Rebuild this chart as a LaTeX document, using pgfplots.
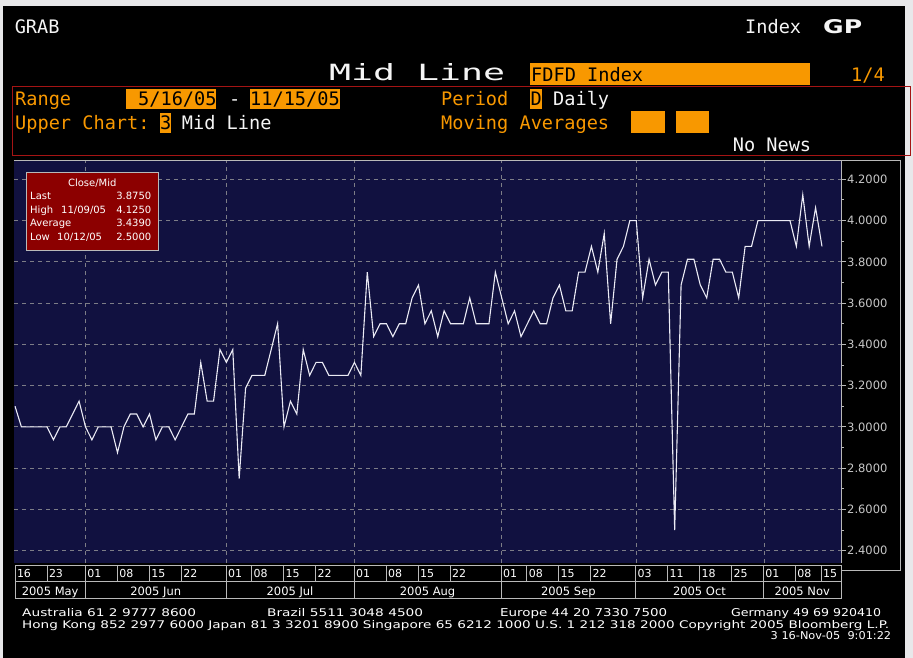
\documentclass[border=0pt]{standalone}
\usepackage{graphicx}
\usepackage{pgfplots}
\pgfplotsset{compat=1.18}
\usepackage{pgfplotstable}
\usepackage{fontspec}
\setmainfont{DejaVu Sans}
\newfontfamily\term{DejaVu Sans Mono}
\newfontfamily\lsans{DejaVu Sans}
\definecolor{bbgray}{RGB}{232,232,234}
\definecolor{bborange}{RGB}{248,152,0}
\definecolor{bbred}{RGB}{165,20,20}
\definecolor{plotbg}{RGB}{17,17,64}
\definecolor{gridc}{RGB}{125,125,135}
\definecolor{framec}{RGB}{185,185,185}
\definecolor{legred}{RGB}{140,0,0}
\definecolor{txt}{RGB}{245,245,245}
\definecolor{linec}{RGB}{235,235,245}
\newcommand\T[3]{\node[anchor=base west, inner sep=0pt, text=#3, font=\term\fontsize{18.6}{18.6}\selectfont] at (#1) {#2};}

\pgfplotstableread{
i v
0 3.1
1 3.0
2 3.0
3 3.0
4 3.0
5 3.0
6 2.9375
7 3.0
8 3.0
9 3.0625
10 3.125
11 3.0
12 2.9375
13 3.0
14 3.0
15 3.0
16 2.875
17 3.0
18 3.0625
19 3.0625
20 3.0
21 3.0625
22 2.9375
23 3.0
24 3.0
25 2.9375
26 3.0
27 3.0625
28 3.0625
29 3.3125
30 3.125
31 3.125
32 3.375
33 3.3125
34 3.375
35 2.75
36 3.1875
37 3.25
38 3.25
39 3.25
40 3.375
41 3.5
42 3.0
43 3.125
44 3.0625
45 3.375
46 3.25
47 3.3125
48 3.3125
49 3.25
50 3.25
51 3.25
52 3.25
53 3.3125
54 3.25
55 3.75
56 3.4375
57 3.5
58 3.5
59 3.4375
60 3.5
61 3.5
62 3.625
63 3.6875
64 3.5
65 3.5625
66 3.4375
67 3.5625
68 3.5
69 3.5
70 3.5
71 3.625
72 3.5
73 3.5
74 3.5
75 3.75
76 3.625
77 3.5
78 3.5625
79 3.4375
80 3.5
81 3.5625
82 3.5
83 3.5
84 3.625
85 3.6875
86 3.5625
87 3.5625
88 3.75
89 3.75
90 3.875
91 3.75
92 3.9375
93 3.5
94 3.8125
95 3.875
96 4.0
97 4.0
98 3.625
99 3.8125
100 3.6875
101 3.75
102 3.75
103 2.5
104 3.6875
105 3.8125
106 3.8125
107 3.6875
108 3.625
109 3.8125
110 3.8125
111 3.75
112 3.75
113 3.625
114 3.875
115 3.875
116 4.0
117 4.0
118 4.0
119 4.0
120 4.0
121 4.0
122 3.875
123 4.125
124 3.875
125 4.0625
126 3.875
}\fedfunds

\begin{document}
\begin{tikzpicture}
\useasboundingbox (0pt,0pt) rectangle (913pt,-658pt);
\begin{scope}[x=1pt,y=-1pt]
\fill[bbgray] (0,0) rectangle (913,658);
\fill[black] (3,6) rectangle (905,658);
% header
\T{14.6,33.3}{GRAB}{txt}
\T{745,33.3}{Index}{txt}
\node[anchor=base west, inner sep=0pt, text=txt] at (823,33.3) {\resizebox{39pt}{14pt}{\bfseries GP}};
\node[anchor=base west, inner sep=0pt, text=txt] at (329,81) {\resizebox{176pt}{17pt}{\term Mid Line}};
\fill[bborange] (530,63) rectangle (810,85);
\T{531,81.7}{FDFD Index}{black}
\T{851,81.5}{1/4}{bborange}
\draw[bbred, line width=1pt] (12.5,87) rectangle (910,156);
\T{15,106}{Range}{bborange}
\fill[bborange] (126,89) rectangle (215.5,109);
\T{138,106}{5/16/05}{black}
\T{229,106}{-}{txt}
\fill[bborange] (250,89) rectangle (339.5,109);
\T{250,106}{11/15/05}{black}
\T{441,106}{Period}{bborange}
\fill[bborange] (530,89) rectangle (541.6,109);
\T{530.3,106}{D}{black}
\T{553,106}{Daily}{txt}
\T{15,129.3}{Upper Chart:}{bborange}
\fill[bborange] (160,112.7) rectangle (170.8,132.7);
\T{160,129.3}{3}{black}
\T{181.7,129.3}{Mid Line}{txt}
\T{441,129.3}{Moving Averages}{bborange}
\fill[bborange] (630.7,111) rectangle (664.5,132.7);
\fill[bborange] (675.6,111) rectangle (709.4,132.7);
\T{732.6,151.7}{No News}{txt}
\end{scope}

\begin{axis}[
  at={(14pt,-161pt)}, anchor=north west,
  scale only axis, width=827pt, height=402pt,
  xmin=-0.16, xmax=128.97, ymin=2.3404, ymax=4.2886,
  axis background/.style={fill=plotbg},
  axis line style={draw=none},
  xtick={11,33,53,76,97,117}, xticklabels={},
  xtick style={draw=none},
  xmajorgrids, ymajorgrids,
  grid style={gridc, dash pattern=on 4pt off 4pt, line width=0.9pt},
  ytick={2.4,2.6,2.8,3.0,3.2,3.4,3.6,3.8,4.0,4.2},
  minor ytick={2.5,2.7,2.9,3.1,3.3,3.5,3.7,3.9,4.1},
  ytick pos=right, yticklabel pos=right,
  tick align=outside, major tick length=5pt, minor tick length=3pt,
  ytick style={framec, line width=0.9pt},
  yticklabel={\pgfmathprintnumber[fixed,fixed zerofill,precision=4,assume math mode=true]{\tick}},
  yticklabel style={font=\lsans\fontsize{11.5}{11.5}\selectfont, text=framec!80!white, anchor=west, inner sep=0pt, xshift=1pt},
]
\addplot[linec, line width=1.1pt, no marks] table[x=i, y=v] {\fedfunds};
\end{axis}

\begin{scope}[x=1pt,y=-1pt]
% plot frame
\draw[framec, line width=1pt] (14,161) -- (900,161) -- (900,570) -- (841,570);
\draw[framec, line width=1pt] (841,161) -- (841,563);
% legend box
\draw[framec, fill=legred, line width=0.9pt] (26.7,172.7) rectangle (158.3,250);
\begin{scope}[every node/.style={inner sep=0pt, text=white, font=\lsans\fontsize{10}{10}\selectfont}]
\node[anchor=base] at (92.3,186) {Close/Mid};
\node[anchor=base west] at (30,199.3) {Last};
\node[anchor=base east] at (151.5,199.3) {3.8750};
\node[anchor=base west] at (30,213) {High};
\node[anchor=base west] at (61,213) {11/09/05};
\node[anchor=base east] at (151.5,213) {4.1250};
\node[anchor=base west] at (30,226.5) {Average};
\node[anchor=base east] at (151.5,226.5) {3.4390};
\node[anchor=base west] at (30,240) {Low};
\node[anchor=base west] at (57,240) {10/12/05};
\node[anchor=base east] at (151.5,240) {2.5000};
\end{scope}
% date strip
\draw[framec, line width=0.9pt] (15,565) rectangle (841,598);
\draw[framec, line width=0.9pt] (15,581) -- (841,581);
\foreach \x/\l in {15/16, 47.0/23, 85.4/01, 117.4/08, 149.3/15, 181.3/22, 226.1/01, 251.7/08, 283.7/15, 315.7/22, 354.0/01, 386.0/08, 418.0/15, 450.0/22, 501.2/01, 526.8/08, 558.7/15, 590.7/22, 635.5/03, 667.5/11, 699.5/18, 731.5/25, 763.4/01, 795.4/08, 821.0/15}{
  \draw[framec, line width=0.9pt] (\x,565) -- (\x,581);
  \node[anchor=base west, inner sep=0pt, text=white, font=\lsans\fontsize{11}{11}\selectfont] at (\x+1.8,577) {\l};
}
\foreach \x in {85.4,226.1,354.0,501.2,635.5,763.4}{
  \draw[framec, line width=0.9pt] (\x,581) -- (\x,598);
}
\foreach \a/\b/\l in {15/85.4/2005 May, 85.4/226.1/2005 Jun, 226.1/354.0/2005 Jul, 354.0/501.2/2005 Aug, 501.2/635.5/2005 Sep, 635.5/763.4/2005 Oct, 763.4/841/2005 Nov}{
  \node[anchor=base, inner sep=0pt, text=white, font=\lsans\fontsize{11.5}{11.5}\selectfont] at ({(\a+\b)/2},595.3) {\l};
}
% footer
\begin{scope}[every node/.style={anchor=base west, inner sep=0pt, text=white}]
\node at (22,616.5) {\resizebox{174pt}{8pt}{\lsans Australia 61 2 9777 8600}};
\node at (267,616.5) {\resizebox{156pt}{8pt}{\lsans Brazil 5511 3048 4500}};
\node at (500,616.5) {\resizebox{167pt}{8pt}{\lsans Europe 44 20 7330 7500}};
\node at (731,616.5) {\resizebox{150pt}{8pt}{\lsans Germany 49 69 920410}};
\node at (22,628) {\resizebox{867pt}{8pt}{\lsans Hong Kong 852 2977 6000 Japan 81 3 3201 8900 Singapore 65 6212 1000 U.S. 1 212 318 2000 Copyright 2005 Bloomberg L.P.}};
\node at (770.5,639.5) {\resizebox{120.5pt}{8pt}{\lsans 3 16-Nov-05\ \ 9:01:22}};
\end{scope}
\end{scope}
\end{tikzpicture}
\end{document}
